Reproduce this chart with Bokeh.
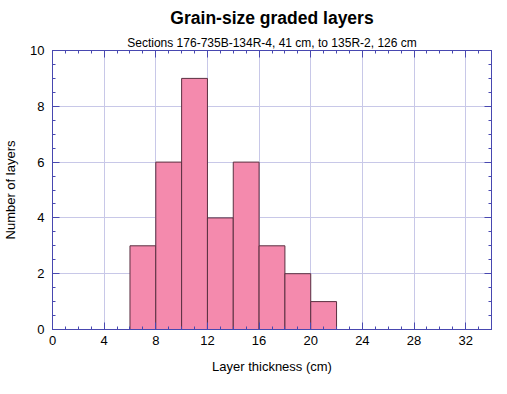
from bokeh.plotting import figure
from bokeh.models import (LinearAxis, SingleIntervalTicker, Range1d, Title,
                          ColumnDataSource, Grid, CustomLabelingPolicy)
from bokeh.embed import file_html
from bokeh.resources import INLINE

bin_left = [6, 8, 10, 12, 14, 16, 18, 20]
bin_width = 2
counts = [3, 6, 9, 4, 6, 3, 2, 1]

src = ColumnDataSource(dict(
    left=bin_left,
    right=[b + bin_width for b in bin_left],
    top=counts,
    bottom=[0] * len(counts),
))

AX = "#4848b0"
GRID = "#c8c8e8"
FONT = "Liberation Sans"

p = figure(output_backend="svg", toolbar_location=None,
           frame_width=439, frame_height=279,
           x_range=Range1d(0, 34), y_range=Range1d(0, 10),
           x_axis_type=None, y_axis_type=None)
p.min_border_left = 44
p.min_border_right = 8
p.min_border_top = 2
p.min_border_bottom = 4
p.outline_line_color = AX
p.background_fill_color = "white"
p.border_fill_color = "white"

p.quad(left="left", right="right", top="top", bottom="bottom", source=src,
       fill_color="#f48aad", line_color="#5a3040", line_width=1)

no_labels = CustomLabelingPolicy(code="""
    for (const i of indices)
        indices.unset(i)
    return indices
""")

def style(ax, labels=True):
    ax.axis_line_color = AX
    ax.major_tick_line_color = AX
    ax.minor_tick_line_color = AX
    ax.major_tick_in = 7
    ax.major_tick_out = 0
    ax.minor_tick_in = 3
    ax.minor_tick_out = 0
    ax.major_label_text_font = FONT
    ax.major_label_text_font_size = "13px"
    ax.major_label_text_color = "black"
    ax.axis_label_text_font = FONT
    ax.axis_label_text_font_size = "13px"
    ax.axis_label_text_font_style = "normal"
    ax.axis_label_text_color = "black"
    if not labels:
        ax.major_label_policy = no_labels
        ax.major_label_text_font_size = "0px"
        ax.major_label_standoff = 0

xt = SingleIntervalTicker(interval=4, num_minor_ticks=4)
yt = SingleIntervalTicker(interval=2, num_minor_ticks=4)

xb = LinearAxis(ticker=xt, axis_label="Layer thickness (cm)")
style(xb)
xb.major_label_standoff = 6
xb.axis_label_standoff = 11
p.add_layout(xb, "below")

yl = LinearAxis(ticker=yt, axis_label="Number of layers")
style(yl)
yl.major_label_standoff = 8
yl.axis_label_standoff = 9
p.add_layout(yl, "left")

xa = LinearAxis(ticker=xt)
style(xa, labels=False)
p.add_layout(xa, "above")
ya = LinearAxis(ticker=yt)
style(ya, labels=False)
p.add_layout(ya, "right")

p.add_layout(Grid(dimension=0, ticker=xt, grid_line_color=GRID, grid_line_width=1))
p.add_layout(Grid(dimension=1, ticker=yt, grid_line_color=GRID, grid_line_width=1))

sub = Title(text="Sections 176-735B-134R-4, 41 cm, to 135R-2, 126 cm", align="center",
            text_font=FONT, text_font_size="12px", text_font_style="normal",
            text_color="black", standoff=2)
p.add_layout(sub, "above")
main = Title(text="Grain-size graded layers", align="center",
             text_font=FONT, text_font_size="17.5px", text_font_style="bold",
             text_color="black")
p.add_layout(main, "above")

open("out.html", "w").write(file_html(p, INLINE))
